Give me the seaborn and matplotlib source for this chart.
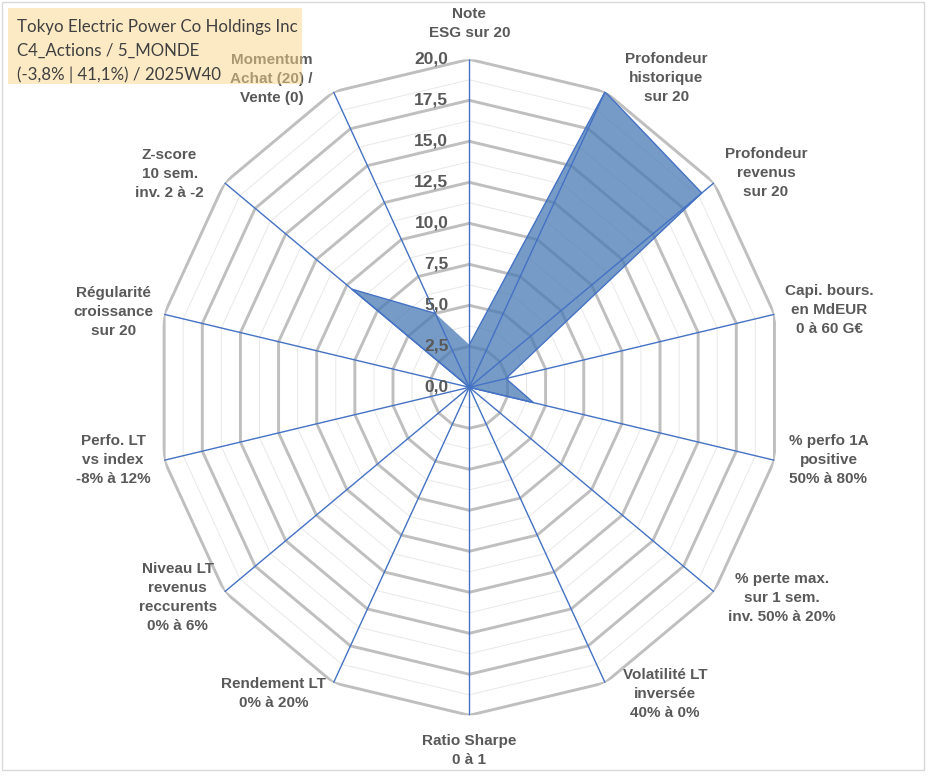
import numpy as np
import pandas as pd
import matplotlib
matplotlib.use("Agg")
import matplotlib.pyplot as plt
from matplotlib.patches import Rectangle
import seaborn as sns

# ---- data ----
categories = [
    "Note\nESG sur 20",
    "Profondeur\nhistorique\nsur 20",
    "Profondeur\nrevenus\nsur 20",
    "Capi. bours.\nen MdEUR\n0 à 60 G€",
    "% perfo 1A\npositive\n50% à 80%",
    "% perte max.\nsur 1 sem.\ninv. 50% à 20%",
    "Volatilité LT\ninversée\n40% à 0%",
    "Ratio Sharpe\n0 à 1",
    "Rendement LT\n0% à 20%",
    "Niveau LT\nrevenus\nreccurents\n0% à 6%",
    "Perfo. LT\nvs index\n-8% à 12%",
    "Régularité\ncroissance\nsur 20",
    "Z-score\n10 sem.\ninv. 2 à -2",
    "Momentum\nAchat (20) /\nVente (0)",
]
values = [2.6, 20.0, 19.0, 2.4, 4.2, 0.0, 0.0, 0.0, 0.0, 0.0, 0.0, 0.0, 9.6, 5.0]
tick_values = [0.0, 2.5, 5.0, 7.5, 10.0, 12.5, 15.0, 17.5, 20.0]
tick_labels = ["0,0", "2,5", "5,0", "7,5", "10,0", "12,5", "15,0", "17,5", "20,0"]
title_lines = ["Tokyo Electric Power Co Holdings Inc",
               "C4_Actions / 5_MONDE",
               "(-3,8% | 41,1%) / 2025W40"]

# label offsets from the outer vertex (pixels) -- layout only
label_offsets = [(0, 36), (61, 14), (52, 10), (55, 4), (54, 0), (68, -6),
                 (60, -11), (0, -35), (-60, -11), (-47, -6), (-51, 0),
                 (-51, 2), (-55, 9), (-62, 13)]

sns.set_theme(style="white")
plt.rcParams['font.family'] = ['Liberation Sans', 'DejaVu Sans']

W, H, DPI = 933, 776, 100
fig = plt.figure(figsize=(W / DPI, H / DPI), dpi=DPI)
cx, cy, rx, ry = 469.3, 387.3, 313, 328
ax = fig.add_axes([(cx - rx) / W, (H - cy - ry) / H, 2 * rx / W, 2 * ry / H],
                  projection="polar")
ax.set_aspect("auto")
ax.set_theta_zero_location("N")
ax.set_theta_direction(-1)
ax.set_ylim(0, 20)
ax.grid(False)
ax.spines["polar"].set_visible(False)
ax.patch.set_alpha(0)

n = len(categories)
theta = np.arange(n) * 2 * np.pi / n
theta_c = np.append(theta, theta[0])

# minor grid
for lv in np.arange(1.25, 20, 2.5):
    ax.plot(theta_c, [lv] * (n + 1), color="#e8e8e8", lw=0.7, zorder=1)
# major grid
for lv in tick_values[1:]:
    ax.plot(theta_c, [lv] * (n + 1), color="#bfbfbf", lw=2.1, zorder=2)

# data fill
vals_c = np.append(values, values[0])
ax.fill(theta_c, vals_c, color="#4a7ab5", alpha=0.75, lw=0, zorder=3)

# spokes
for t in theta:
    ax.plot([t, t], [0, 20], color="#4472c4", lw=1.0, zorder=4)

df = pd.DataFrame({"theta": theta_c, "value": vals_c})
sns.lineplot(data=df, x="theta", y="value", sort=False, ax=ax,
             color="#4472c4", lw=1.0, zorder=5, legend=False)
ax.set_xlabel("")
ax.set_ylabel("")
ax.set_xticks([])
ax.set_yticks([])
ax.set_ylim(0, 20)

# radial tick labels
for v, lab in zip(tick_values, tick_labels):
    ax.annotate(lab, xy=(0, v), xytext=(-21, 0), textcoords="offset pixels",
                ha="right", va="center", fontsize=12.5, fontweight="bold",
                color="#595959", zorder=6)

# category labels
for t, lab, (dx, dy) in zip(theta, categories, label_offsets):
    ax.annotate(lab, xy=(t, 20), xytext=(dx, dy), textcoords="offset pixels",
                ha="center", va="center", fontsize=11, fontweight="bold",
                color="#595959", linespacing=1.45, zorder=6,
                annotation_clip=False)

# title box
fig.add_artist(Rectangle((8 / W, 1 - 84 / H), (302 - 8) / W, (84 - 8) / H,
                         transform=fig.transFigure, facecolor="#fbd78d",
                         alpha=0.5, edgecolor="none", zorder=10))
for i, yy in enumerate([27, 51, 75]):
    fig.text(17 / W, 1 - yy / H, title_lines[i], ha="left", va="center",
             fontsize=12.2, color="#404040", family=["Lato", "DejaVu Sans"],
             zorder=11)

# chart border
fig.add_artist(Rectangle((2 / W, 1 - 770 / H), (924 - 2) / W, (770 - 2) / H,
                         transform=fig.transFigure, facecolor="none",
                         edgecolor="#d9d9d9", lw=1, zorder=12))

fig.savefig("out.png", dpi=DPI)
